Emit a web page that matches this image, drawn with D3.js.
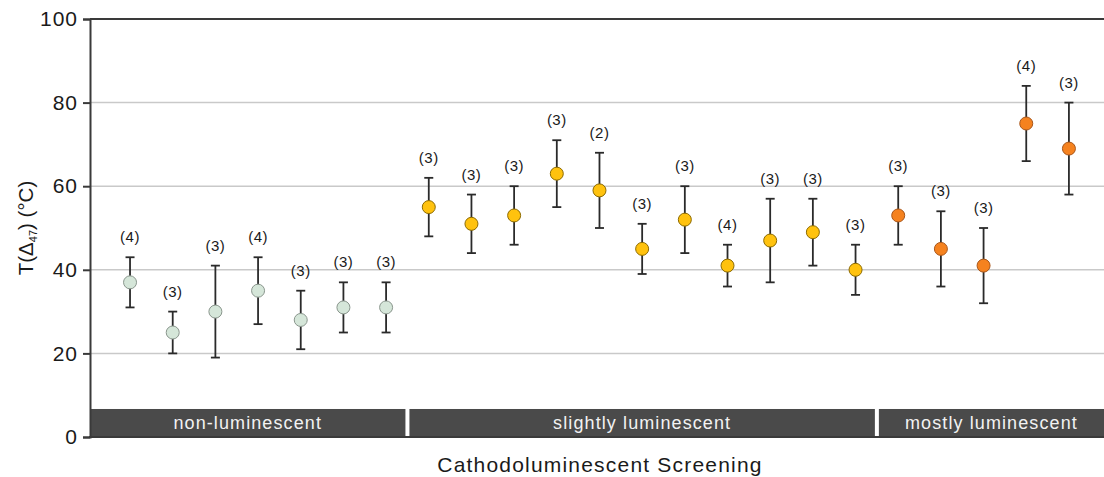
<!DOCTYPE html>
<html>
<head>
<meta charset="utf-8">
<script src="https://cdn.jsdelivr.net/npm/d3@7"></script>
<style>
  html, body { margin: 0; padding: 0; background: #fff; }
  svg { display: block; font-family: "Liberation Sans", Arial, sans-serif; }
</style>
</head>
<body>
<svg id="chart" width="1104" height="477"></svg>
<script>
// Clumped-isotope temperatures grouped by cathodoluminescence screening
const groupNames = ["non-luminescent", "slightly luminescent", "mostly luminescent"];
const sampleGroup = [0,0,0,0,0,0,0, 1,1,1,1,1,1,1,1,1,1,1, 2,2,2,2,2];
const meanT  = [37, 25, 30, 35, 28, 31, 31,  55, 51, 53, 63, 59, 45, 52, 41, 47, 49, 40,  53, 45, 41, 75, 69];
const lowT   = [31, 20, 19, 27, 21, 25, 25,  48, 44, 46, 55, 50, 39, 44, 36, 37, 41, 34,  46, 36, 32, 66, 58];
const highT  = [43, 30, 41, 43, 35, 37, 37,  62, 58, 60, 71, 68, 51, 60, 46, 57, 57, 46,  60, 54, 50, 84, 80];
const nReplicates = [4, 3, 3, 4, 3, 3, 3,  3, 3, 3, 3, 2, 3, 3, 4, 3, 3, 3,  3, 3, 3, 4, 3];
const yTicks = [0, 20, 40, 60, 80, 100];

const fillColors   = ["#d5e6d9", "#ffc20e", "#f5821f"];
const strokeColors = ["#8a968d", "#8c6a00", "#a8561a"];

const svg = d3.select("#chart");
const plotLeft = 90, plotRight = 1104, plotTop = 19, plotBottom = 437;

const ids = d3.range(meanT.length);
const x = d3.scalePoint().domain(ids).range([plotLeft, plotRight]).padding(0.88).align(0.533);
const y = d3.scaleLinear().domain([0, 100]).range([plotBottom, plotTop]);

// horizontal grid
svg.append("g").selectAll("line").data(yTicks.filter(t => t > 0 && t < 100)).join("line")
  .attr("x1", plotLeft).attr("x2", plotRight)
  .attr("y1", d => y(d)).attr("y2", d => y(d))
  .attr("stroke", "#c9c9c9").attr("stroke-width", 1.5);

// group bands along the bottom
const groupExtents = groupNames.map((name, g) => {
  const members = ids.filter(i => sampleGroup[i] === g);
  const first = members[0], last = members[members.length - 1];
  const x0 = first === 0 ? plotLeft : (x(first - 1) + x(first)) / 2 + 2;
  const x1 = last === ids.length - 1 ? plotRight : (x(last) + x(last + 1)) / 2 - 2;
  return { name, x0, x1 };
});
const bandTop = y(6.7);
const bands = svg.append("g");
bands.selectAll("rect").data(groupExtents).join("rect")
  .attr("x", d => d.x0).attr("width", d => d.x1 - d.x0)
  .attr("y", bandTop).attr("height", plotBottom - bandTop)
  .attr("fill", "#4a4a4a");
bands.selectAll("text").data(groupExtents).join("text")
  .attr("x", d => (d.x0 + d.x1) / 2).attr("y", (bandTop + plotBottom) / 2 + 6)
  .attr("text-anchor", "middle").attr("fill", "#f2f2f2")
  .attr("font-size", 18).attr("letter-spacing", 1.1)
  .text(d => d.name);

// frame: top line, baseline, left axis
svg.append("line").attr("x1", plotLeft).attr("x2", plotRight).attr("y1", plotTop).attr("y2", plotTop)
  .attr("stroke", "#3a3a3a").attr("stroke-width", 2);
svg.append("line").attr("x1", plotLeft - 1).attr("x2", plotRight).attr("y1", plotBottom).attr("y2", plotBottom)
  .attr("stroke", "#3a3a3a").attr("stroke-width", 2);

const yAxis = svg.append("g").attr("transform", `translate(${plotLeft},0)`)
  .call(d3.axisLeft(y).tickValues(yTicks).tickSize(7).tickPadding(5));
yAxis.select(".domain").attr("stroke", "#3a3a3a").attr("stroke-width", 2);
yAxis.selectAll(".tick line").attr("stroke", "#3a3a3a").attr("stroke-width", 2);
yAxis.selectAll(".tick text").attr("font-size", 21).attr("fill", "#1a1a1a")
  .attr("font-family", "Liberation Sans, Arial, sans-serif").attr("letter-spacing", 1);

// axis titles
const yTitle = svg.append("text")
  .attr("transform", `translate(33,${(plotTop + plotBottom) / 2}) rotate(-90)`)
  .attr("text-anchor", "middle").attr("font-size", 20.5).attr("fill", "#1a1a1a");
yTitle.append("tspan").text("T(Δ");
yTitle.append("tspan").attr("font-size", 11).attr("dy", 4).text("47");
yTitle.append("tspan").attr("dy", -4).text(") (°C)");

svg.append("text").attr("x", (plotLeft + plotRight) / 2 + 3).attr("y", 472)
  .attr("text-anchor", "middle").attr("font-size", 21).attr("letter-spacing", 1.2)
  .attr("fill", "#1a1a1a").text("Cathodoluminescent Screening");

// error bars, points and replicate counts
const marks = svg.append("g").selectAll("g").data(ids).join("g");
marks.append("line")
  .attr("x1", i => x(i)).attr("x2", i => x(i))
  .attr("y1", i => y(highT[i])).attr("y2", i => y(lowT[i]))
  .attr("stroke", "#2a2a2a").attr("stroke-width", 1.8);
marks.selectAll(".cap").data(i => [[i, highT[i]], [i, lowT[i]]]).join("line")
  .attr("class", "cap")
  .attr("x1", d => x(d[0]) - 4.5).attr("x2", d => x(d[0]) + 4.5)
  .attr("y1", d => y(d[1])).attr("y2", d => y(d[1]))
  .attr("stroke", "#2a2a2a").attr("stroke-width", 1.8);
marks.append("circle")
  .attr("cx", i => x(i)).attr("cy", i => y(meanT[i])).attr("r", 6.5)
  .attr("fill", i => fillColors[sampleGroup[i]])
  .attr("stroke", i => strokeColors[sampleGroup[i]]).attr("stroke-width", 1);
marks.append("text")
  .attr("x", i => x(i)).attr("y", i => y(highT[i]) - 15)
  .attr("text-anchor", "middle").attr("font-size", 15).attr("letter-spacing", 0.5)
  .attr("fill", "#1a1a1a")
  .text(i => `(${nReplicates[i]})`);
</script>
</body>
</html>
